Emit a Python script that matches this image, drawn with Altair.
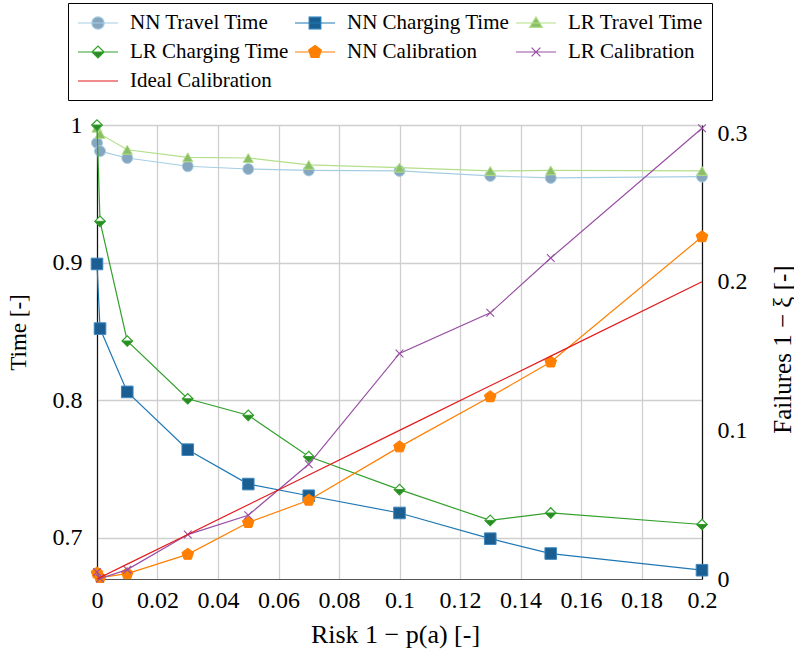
import altair as alt
import pandas as pd

# Risk levels 1 - p(a)
risk = [0.0, 0.001, 0.01, 0.03, 0.05, 0.07, 0.1, 0.13, 0.15, 0.2]

# Normalised times (left axis)
nn_travel = [0.987, 0.981, 0.976, 0.970, 0.968, 0.967, 0.9666, 0.963, 0.9615, 0.9625]
nn_charging = [0.899, 0.852, 0.806, 0.764, 0.739, 0.7305, 0.718, 0.6993, 0.6885, 0.6764]
lr_travel = [0.998, 0.9935, 0.982, 0.9765, 0.976, 0.971, 0.969, 0.9666, 0.967, 0.9666]
lr_charging = [1.0, 0.930, 0.843, 0.801, 0.789, 0.759, 0.735, 0.7126, 0.718, 0.7096]

# Observed failure rates 1 - xi (right axis)
nn_calibration = [0.004, 0.001, 0.0036, 0.0166, 0.038, 0.053, 0.0889, 0.1226, 0.146, 0.2303]
lr_calibration = [0.0047, 0.0003, 0.0063, 0.0299, 0.0429, 0.0772, 0.1518, 0.1791, 0.216, 0.3033]
ideal_calibration = [0.0, 0.001, 0.01, 0.03, 0.05, 0.07, 0.1, 0.13, 0.15, 0.2]

series_names = [
    "NN Travel Time", "NN Charging Time", "LR Travel Time",
    "LR Charging Time", "NN Calibration", "LR Calibration", "Ideal Calibration",
]
line_colors = ["#a6cee3", "#1f78b4", "#b2df8a", "#33a02c", "#ff7f00", "#984ea3", "#e31a1c"]
marker_fills = ["#86a5bf", "#1a5e92", "#8cbd68", "#2b8a25", "#ff7f00", "#984ea3", "#e31a1c"]

FONT = "Liberation Serif"


def frame(name, values):
    return pd.DataFrame({"risk": risk, "value": values, "series": name})


x_enc = alt.X(
    "risk:Q",
    scale=alt.Scale(domain=[0, 0.2], nice=False, zero=False),
    axis=alt.Axis(
        title="Risk 1 − p(a) [-]",
        values=[0, 0.02, 0.04, 0.06, 0.08, 0.1, 0.12, 0.14, 0.16, 0.18, 0.2],
        format="~g", labelFlush=False, labelOverlap=False,
        ticks=False, tickSize=0, labelPadding=9,
        grid=True, gridColor="#cfcfcf", gridWidth=1.3,
        domainColor="#555555", domainWidth=1.2,
        titleFontSize=26, titleX=298, titleY=55, titleBaseline="middle",
    ),
)
y_left = alt.Y(
    "value:Q",
    scale=alt.Scale(domain=[0.67, 1.0], nice=False, zero=False),
    axis=alt.Axis(
        title="Time [-]", orient="left",
        values=[0.7, 0.8, 0.9, 1.0], format="~g",
        ticks=False, tickSize=0, labelPadding=15,
        grid=True, gridColor="#cfcfcf", gridWidth=1.3,
        domainColor="#111111", domainWidth=1.2,
        titleFontSize=23, titleAngle=270, titleX=-79, titleY=207,
        titleAlign="center", titleBaseline="middle",
    ),
)
y_right = alt.Y(
    "value:Q",
    scale=alt.Scale(domain=[0, 0.3055], nice=False, zero=False),
    axis=alt.Axis(
        title="Failures 1 − ξ [-]", orient="right",
        values=[0, 0.1, 0.2, 0.3], format="~g",
        ticks=False, tickSize=0, labelPadding=15,
        grid=False,
        domainColor="#111111", domainWidth=1.2,
        titleFontSize=25, titleAngle=270, titleX=80, titleY=224,
        titleAlign="center", titleBaseline="middle",
    ),
)

# marker outlines in the unit square
pentagon = "M0,-1L0.951,-0.309L0.588,0.809L-0.588,0.809L-0.951,-0.309Z"
cross = "M-1,-1L1,1M-1,1L1,-1"
lower_half = "M-1,0L0,1L1,0Z"


def line_layer(df, color, y):
    return alt.Chart(df).mark_line(color=color, strokeWidth=1.2).encode(x=x_enc, y=y)


def point_layer(df, y, **mark):
    return alt.Chart(df).mark_point(opacity=1, **mark).encode(x=x_enc, y=y)


left_layers = []
right_layers = []

df = frame("NN Travel Time", nn_travel)
left_layers += [
    line_layer(df, line_colors[0], y_left),
    point_layer(df, y_left, shape="circle", filled=True, fill=marker_fills[0],
                stroke=line_colors[0], strokeWidth=1, size=120),
]
df = frame("NN Charging Time", nn_charging)
left_layers += [
    line_layer(df, line_colors[1], y_left),
    point_layer(df, y_left, shape="square", filled=True, fill=marker_fills[1],
                stroke="#3f87bf", strokeWidth=1, size=135),
]
df = frame("LR Travel Time", lr_travel)
left_layers += [
    line_layer(df, line_colors[2], y_left),
    point_layer(df, y_left, shape="triangle-up", filled=True, fill=marker_fills[2],
                stroke=line_colors[2], strokeWidth=1, size=105),
]
df = frame("LR Charging Time", lr_charging)
left_layers += [
    line_layer(df, line_colors[3], y_left),
    point_layer(df, y_left, shape="diamond", filled=True, fill="white",
                stroke=line_colors[3], strokeWidth=1.2, size=110),
    point_layer(df, y_left, shape=lower_half, filled=True, fill=marker_fills[3],
                stroke=line_colors[3], strokeWidth=1, size=110),
]

df = frame("NN Calibration", nn_calibration)
right_layers += [
    line_layer(df, line_colors[4], y_right),
    point_layer(df, y_right, shape=pentagon, filled=True, fill=marker_fills[4],
                stroke=line_colors[4], strokeWidth=1, size=150),
]
df = frame("LR Calibration", lr_calibration)
right_layers += [
    line_layer(df, line_colors[5], y_right),
    point_layer(df, y_right, shape=cross, filled=False, stroke=line_colors[5],
                strokeWidth=1.1, size=60),
]
df = frame("Ideal Calibration", ideal_calibration)
right_layers += [line_layer(df, line_colors[6], y_right)]

# Legend glyphs (unit = 10 px): a 40 px line from the entry start with the
# series marker at its middle
legend_paths = [
    "M-1,0H3M1.62,0A0.62,0.62,0,1,1,0.38,0A0.62,0.62,0,1,1,1.62,0Z",
    "M-1,0H3M0.42,-0.58H1.58V0.58H0.42Z",
    "M-1,0H3M1,-0.6L1.64,0.44H0.36Z",
    "M-1,0H3M0.4,0L1,0.6L1.6,0ZM0.4,0L1,-0.6L1.6,0L1,-0.6Z",
    "M-1,0H3M1,-0.66L1.628,-0.204L1.388,0.534L0.612,0.534L0.372,-0.204Z",
    "M-1,0H3M0.56,-0.44L1.44,0.44M0.56,0.44L1.44,-0.44",
    "M-1,0H3",
]

legend_df = pd.DataFrame({
    "series": series_names,
    "risk": [-1.0] * len(series_names),
    "value": [0.8] * len(series_names),
})
legend_cfg = alt.Legend(
    title=None, orient="none", legendX=-29, legendY=-122,
    columns=3, direction="horizontal",
    symbolSize=400, symbolStrokeWidth=1.2, symbolOpacity=1,
    labelFont=FONT, labelFontSize=21, labelColor="black", labelLimit=300,
    labelOffset=31, columnPadding=3, rowPadding=8, padding=9,
    strokeColor="black", fillColor="white",
)
legend_layer = alt.Chart(legend_df).mark_point(
    clip=True, filled=True, opacity=1, size=400
).encode(
    x=x_enc,
    y=y_left,
    shape=alt.Shape("series:N", scale=alt.Scale(domain=series_names, range=legend_paths),
                    legend=legend_cfg),
    fill=alt.Fill("series:N", scale=alt.Scale(domain=series_names, range=marker_fills),
                  legend=legend_cfg),
    stroke=alt.Stroke("series:N", scale=alt.Scale(domain=series_names, range=line_colors),
                      legend=legend_cfg),
)

left = alt.layer(*left_layers, legend_layer)
right = alt.layer(*right_layers)

chart = alt.layer(left, right).resolve_scale(y="independent").properties(
    width=605,
    height=454,
    padding={"left": 97, "top": 125, "right": 92, "bottom": 72},
    autosize=alt.AutoSizeParams(type="none"),
    background="white",
).configure_view(stroke=None).configure_axis(
    labelFont=FONT, labelFontSize=24, labelColor="black",
    titleFont=FONT, titleFontWeight="normal", titleColor="black",
)

chart.save("out.html", embed_options={"renderer": "svg", "actions": False})
